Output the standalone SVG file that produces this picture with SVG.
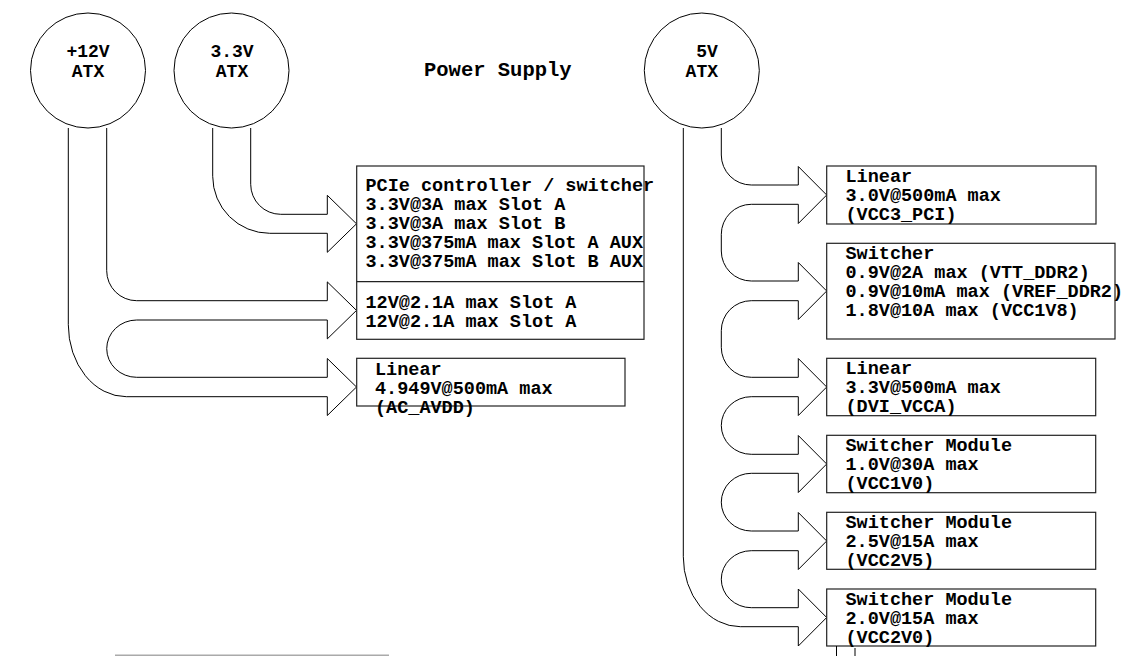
<svg xmlns="http://www.w3.org/2000/svg" width="1144" height="656" viewBox="0 0 1144 656">
<style>
  .bg{fill:#fff}
  .circ{fill:#fff;stroke:#000;stroke-width:1}
  .box{fill:#fff;stroke:#222;stroke-width:1.2}
  .conn{fill:none;stroke:#000;stroke-width:1}
  .t{font-family:"Liberation Mono","Courier New",monospace;font-weight:bold;font-size:18.5px;fill:#000}
  .c{font-family:"Liberation Mono","Courier New",monospace;font-weight:bold;font-size:18px;fill:#000;text-anchor:middle}
  .title{font-family:"Liberation Mono","Courier New",monospace;font-weight:bold;font-size:20.5px;fill:#000}
</style>
<rect class="bg" x="0" y="0" width="1144" height="656"/>
<g id="connectors">
  <path class="conn" d="M250.7,128 V184.3 A30,30 0 0 0 280.7,214.3 H327.3 V195.3 L356.5,223.8 L327.3,252.3 V233.3 H269.7 A57,57 0 0 1 212.7,176.3 V128"/>
  <path class="conn" d="M106.7,128 V270.7 A30,30 0 0 0 136.7,300.7 H327.3 V281.9 L356.5,310.4 L327.3,338.9 V320 H136.7 A30,28.65 0 0 0 136.7,377.3 H327.3 V358.5 L356.5,387 L327.3,415.5 V396.7 H126.3 A58,72 0 0 1 68.3,324.7 V128"/>
  <path class="conn" d="M721.3,128 V155 A30,30 0 0 0 751.3,185 H798.3 V166.5 L826.7,195 L798.3,223.5 V204.3 H751.3 A30,30 0 0 0 721.3,234.3 V251 A30,30 0 0 0 751.3,281 H798.3 V262.5 L826.7,291 L798.3,319.5 V300.7 H751.3 A30,30 0 0 0 721.3,330.7 V347.3 A30,30 0 0 0 751.3,377.3 H798.3 V358.5 L826.7,387 L798.3,415.5 V396.7 H751.3 A30,28.8 0 0 0 751.3,454.3 H798.3 V435.5 L826.7,464 L798.3,492.5 V473.3 H751.3 A30,28.85 0 0 0 751.3,531 H798.3 V512.5 L826.7,541 L798.3,569.5 V550.7 H751.3 A30,28.5 0 0 0 751.3,607.7 H798.3 V589 L826.7,617.5 L798.3,646 V626.7 H740.3 A57,70 0 0 1 683.3,556.7 V128"/>
</g>
<g id="src12">
  <circle class="circ" cx="88" cy="70.5" r="57.5"/>
  <text class="c" x="88" y="56.5">+12V</text>
  <text class="c" x="88" y="76.5">ATX</text>
</g>
<g id="src33">
  <circle class="circ" cx="231.5" cy="70.5" r="57.5"/>
  <text class="c" x="232" y="56.5">3.3V</text>
  <text class="c" x="232" y="76.5">ATX</text>
</g>
<g id="title">
  <text class="title" x="424" y="76">Power Supply</text>
</g>
<g id="src5">
  <circle class="circ" cx="701.8" cy="70.5" r="57.5"/>
  <text class="c" x="707" y="56.5">5V</text>
  <text class="c" x="701.8" y="76.5">ATX</text>
</g>
<g id="pcie">
  <rect class="box" x="356.7" y="166" width="287.3" height="173.3"/>
  <line class="box" x1="356.7" y1="281.7" x2="644" y2="281.7"/>
  <text class="t" x="365.5" y="190.5">PCIe controller / switcher</text>
  <text class="t" x="365.5" y="209.5">3.3V@3A max Slot A</text>
  <text class="t" x="365.5" y="228.5">3.3V@3A max Slot B</text>
  <text class="t" x="365.5" y="247.5">3.3V@375mA max Slot A AUX</text>
  <text class="t" x="365.5" y="266.5">3.3V@375mA max Slot B AUX</text>
  <text class="t" x="365.5" y="307.5">12V@2.1A max Slot A</text>
  <text class="t" x="365.5" y="326.5">12V@2.1A max Slot A</text>
</g>
<g id="ac_avdd">
  <rect class="box" x="356.7" y="358.3" width="268.3" height="47.7"/>
  <text class="t" x="375" y="375">Linear</text>
  <text class="t" x="375" y="394">4.949V@500mA max</text>
  <text class="t" x="375" y="413">(AC_AVDD)</text>
</g>
<g id="vcc3_pci">
  <rect class="box" x="826.7" y="166" width="269.3" height="58"/>
  <text class="t" x="845.5" y="181.7">Linear</text>
  <text class="t" x="845.5" y="200.7">3.0V@500mA max</text>
  <text class="t" x="845.5" y="219.7">(VCC3_PCI)</text>
</g>
<g id="ddr2">
  <rect class="box" x="826.7" y="243.3" width="288.3" height="95.7"/>
  <text class="t" x="845.5" y="259">Switcher</text>
  <text class="t" x="845.5" y="278">0.9V@2A max (VTT_DDR2)</text>
  <text class="t" x="845.5" y="297">0.9V@10mA max (VREF_DDR2)</text>
  <text class="t" x="845.5" y="316">1.8V@10A max (VCC1V8)</text>
</g>
<g id="dvi_vcca">
  <rect class="box" x="826.7" y="358.3" width="269" height="57.4"/>
  <text class="t" x="845.5" y="373.5">Linear</text>
  <text class="t" x="845.5" y="392.5">3.3V@500mA max</text>
  <text class="t" x="845.5" y="411.5">(DVI_VCCA)</text>
</g>
<g id="vcc1v0">
  <rect class="box" x="826.7" y="435.3" width="269" height="57.4"/>
  <text class="t" x="845.5" y="451">Switcher Module</text>
  <text class="t" x="845.5" y="470">1.0V@30A max</text>
  <text class="t" x="845.5" y="489">(VCC1V0)</text>
</g>
<g id="vcc2v5">
  <rect class="box" x="826.7" y="512.3" width="269" height="57"/>
  <text class="t" x="845.5" y="528">Switcher Module</text>
  <text class="t" x="845.5" y="547">2.5V@15A max</text>
  <text class="t" x="845.5" y="566">(VCC2V5)</text>
</g>
<g id="vcc2v0">
  <rect class="box" x="826.7" y="589" width="269" height="57"/>
  <text class="t" x="845.5" y="604.5">Switcher Module</text>
  <text class="t" x="845.5" y="623.5">2.0V@15A max</text>
  <text class="t" x="845.5" y="642.5">(VCC2V0)</text>
  <line class="conn" x1="836.5" y1="646" x2="836.5" y2="656"/>
  <line class="conn" x1="855" y1="648" x2="855" y2="656"/>
</g>
<line x1="115" y1="655.3" x2="389" y2="655.3" stroke="#aaa" stroke-width="1.5"/>
</svg>
